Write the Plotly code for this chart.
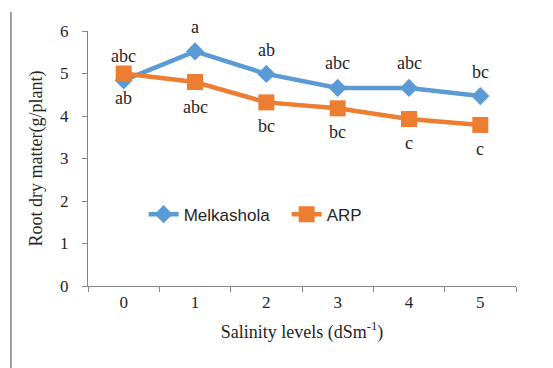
import plotly.graph_objects as go

salinity = ["0", "1", "2", "3", "4", "5"]
melkashola = [4.84, 5.52, 4.99, 4.66, 4.66, 4.47]
arp = [5.00, 4.80, 4.32, 4.18, 3.93, 3.79]
mel_letters = ["ab", "a", "ab", "abc", "abc", "bc"]
arp_letters = ["abc", "abc", "bc", "bc", "c", "c"]

# label offsets (pixels) - style, not data
mel_shift = [-18, 24, 24, 25, 25, 24]
arp_shift = [18, -25, -24, -24, -24, -24]

BLUE = "#5B9BD5"
ORANGE = "#ED7D31"
SERIF = "Liberation Serif"
TXT = "#262626"

fig = go.Figure()
fig.add_trace(go.Scatter(
    x=salinity, y=melkashola, name="Melkashola", mode="lines+markers",
    line=dict(color=BLUE, width=4.5),
    marker=dict(symbol="diamond", size=14, color=BLUE),
))
fig.add_trace(go.Scatter(
    x=salinity, y=arp, name="ARP", mode="lines+markers",
    line=dict(color=ORANGE, width=4.5),
    marker=dict(symbol="square", size=16, color=ORANGE),
))

annotations = []
for xs, ys, labs, shifts in [(salinity, melkashola, mel_letters, mel_shift),
                             (salinity, arp, arp_letters, arp_shift)]:
    for x, y, t, s in zip(xs, ys, labs, shifts):
        annotations.append(dict(x=x, y=y, text=t, showarrow=False, yshift=s,
                                font=dict(family=SERIF, size=18, color=TXT)))

# page body adds an 8px offset, margins compensate
fig.update_layout(
    width=553, height=368,
    margin=dict(l=80, r=45, t=23, b=90, autoexpand=False),
    paper_bgcolor="white", plot_bgcolor="white",
    showlegend=True,
    legend=dict(orientation="h", x=0.13, y=0.28, xanchor="left", yanchor="middle",
                font=dict(family="Liberation Sans", size=17, color=TXT),
                bgcolor="rgba(0,0,0,0)", itemwidth=30, entrywidth=98),
    annotations=annotations,
    shapes=[dict(type="line", xref="paper", yref="paper",
                 x0=-0.18, x1=-0.18, y0=1.075, y1=-0.35,
                 line=dict(color="#808080", width=1.5))],
)
fig.update_xaxes(
    type="category", range=[-0.5, 5.5], tickson="boundaries",
    ticks="outside", ticklen=5, tickcolor="#868686", automargin=False,
    showline=True, linecolor="#868686", linewidth=1.2, showgrid=False,
    tickfont=dict(family=SERIF, size=17, color=TXT),
    title=dict(text="Salinity levels (dSm<sup>-1</sup>)", standoff=14,
               font=dict(family=SERIF, size=18, color=TXT)),
)
fig.update_yaxes(
    range=[0, 6], dtick=1, ticks="outside", ticklen=5, tickcolor="#868686",
    automargin=False, ticklabelstandoff=10,
    showline=True, linecolor="#868686", linewidth=1.2, showgrid=False, zeroline=False,
    tickfont=dict(family=SERIF, size=17, color=TXT),
    title=dict(text="Root dry matter(g/plant)", standoff=12,
               font=dict(family=SERIF, size=18, color=TXT)),
)

fig.write_html("out.html")
